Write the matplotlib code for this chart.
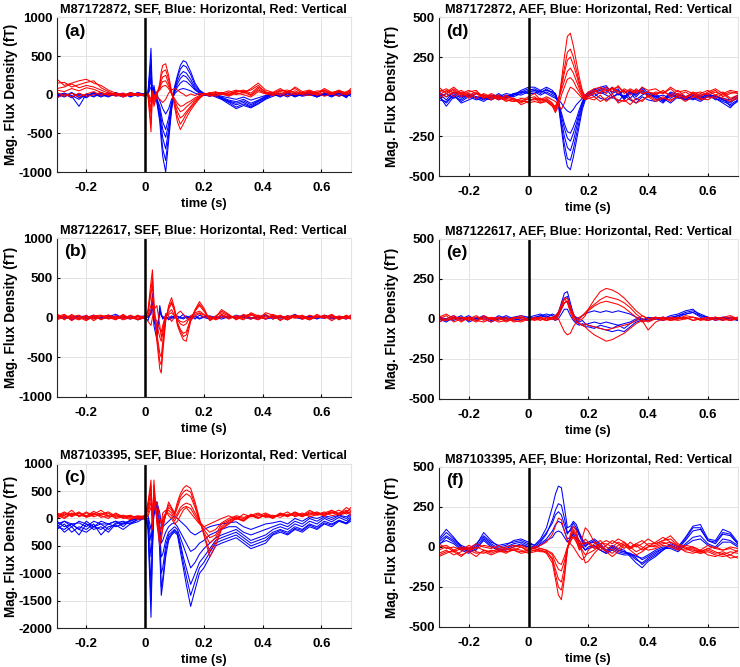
import matplotlib
matplotlib.use("Agg")
import matplotlib.pyplot as plt

plt.rcParams['font.family'] = ['Liberation Sans', 'DejaVu Sans']
plt.rcParams['font.weight'] = 'bold'

# time points (s)
t_sef = [-0.3, -0.275, -0.25, -0.225, -0.2, -0.175, -0.15, -0.125, -0.1, -0.075, -0.05, -0.025, 0.0,
         0.01, 0.02, 0.025, 0.03, 0.04, 0.05, 0.055, 0.06, 0.07, 0.08, 0.09, 0.1, 0.11, 0.12, 0.13,
         0.14, 0.155, 0.17, 0.185, 0.2, 0.22, 0.24,
         0.26, 0.285, 0.31, 0.335, 0.36, 0.385, 0.41, 0.435, 0.46, 0.485, 0.51, 0.535, 0.56, 0.585,
         0.61, 0.635, 0.66, 0.685, 0.7]
t_aef = [-0.3, -0.275, -0.25, -0.225, -0.2, -0.175, -0.15, -0.125, -0.1, -0.075, -0.05, -0.025, 0.0,
         0.02, 0.04, 0.06, 0.08, 0.09, 0.1, 0.11, 0.12, 0.13, 0.14, 0.15, 0.16, 0.17, 0.18, 0.19,
         0.2, 0.22, 0.24, 0.26, 0.28, 0.3, 0.32, 0.34, 0.36, 0.38, 0.4,
         0.425, 0.45, 0.475, 0.5, 0.525, 0.55, 0.575, 0.6, 0.625, 0.65, 0.675, 0.7]

# (a) M87172872 SEF
a_blue = [
    [-20, 10, -40, 15, -30, 20, -10, 25, -15, 10, -20, 30, 0,
     40, 600, -50, 120, -100, -350, -600, -800, -1000, -600, -200, 100, 250, 380, 440, 420, 300, 150, 60, 20, 0, -30,
     -60, -120, -180, -140, -170, -120, -60, -20, 10, -30, 20, -10, 30, -20, 10, -30, 20, -40, 30],
    [20, -20, 30, -40, 0, 10, -30, 20, -10, -20, 30, 0, -20,
     30, 450, -70, 90, -80, -300, -500, -700, -850, -520, -180, 80, 220, 330, 380, 360, 260, 120, 50, 10, -10, 0,
     -50, -100, -160, -120, -160, -110, -50, 0, -10, 10, -20, 20, 0, -30, 20, -10, 10, -30, 20],
    [-40, 20, -10, -60, 10, -20, 30, -10, 20, -30, 10, -10, 20,
     20, 350, -80, 60, -60, -250, -400, -560, -700, -450, -150, 60, 180, 260, 300, 280, 200, 90, 40, 0, -20, 10,
     -40, -90, -130, -100, -150, -90, -40, 10, -20, 20, -30, 10, 40, -10, 20, -20, 30, -10, 40],
    [0, 20, -30, 10, -20, 30, -20, 0, 10, -10, 0, 20, 10,
     10, 250, -60, 40, -50, -200, -320, -450, -550, -380, -120, 40, 140, 210, 250, 230, 160, 70, 30, -10, 20, -10,
     -50, -80, -110, -80, -130, -80, -30, 10, -30, 20, -10, 20, 10, -20, 0, 20, -10, 20, -20],
    [10, -30, 20, -10, -40, 20, 0, -30, 30, -10, 20, -20, 10,
     0, 200, -40, 30, -50, -150, -250, -350, -450, -300, -100, 30, 100, 150, 180, 170, 120, 60, 20, -10, 10, -20,
     -30, -70, -90, -60, -110, -70, -20, 20, -10, 30, -20, 0, 20, -30, 10, 30, -20, 10, 0],
    [-30, 0, -20, -150, 10, -30, 20, -20, 0, 20, -30, 10, -10,
     10, 100, 60, 20, 0, -80, -130, -180, -250, -180, -60, 10, 50, 70, 80, 70, 50, 20, 0, 10, -20, 0,
     -20, -40, -60, -30, -70, -40, -10, 0, 20, -10, 10, -20, 0, 20, -10, 0, 30, -20, 10],
]
a_red = [
    [200, 120, 150, 180, 200, 150, 120, 60, 20, 0, 10, -10, 0,
     -20, -480, 50, -150, -20, 150, 300, 380, 400, 250, 50, -150, -350, -450, -380, -300, -200, -120, -50, 0, 20, 40,
     0, 30, 60, 20, 80, 150, 60, 30, 80, 20, 100, 40, 60, 20, 80, 30, 50, 20, 80],
    [150, 160, 100, 130, 160, 180, 90, 40, 0, 20, -10, 0, 10,
     -10, -380, 40, -120, 0, 120, 250, 300, 320, 200, 30, -120, -280, -380, -320, -250, -170, -100, -40, 0, 10, 30,
     20, 0, 50, 40, 60, 120, 30, 20, 60, 40, 80, 20, 40, 30, 60, 10, 40, 30, 50],
    [80, 100, 140, 90, 120, 100, 60, 20, -20, 10, -10, 20, -10,
     0, -250, 30, -80, 30, 100, 180, 230, 250, 150, 20, -100, -220, -300, -270, -220, -150, -80, -30, 10, -10, 20,
     30, 10, 40, 60, 20, 100, 40, 0, 50, 60, 20, 30, 10, 50, 40, 20, 60, 10, 40],
    [60, 40, 80, 50, 90, 70, 30, 0, 10, -10, 20, 0, -10,
     10, -180, 30, -60, 20, 80, 140, 170, 180, 110, 20, -70, -160, -220, -200, -160, -110, -60, -20, 10, -20, 10,
     20, -10, 30, 50, 0, 80, 20, 10, 40, 20, 50, 10, 30, 0, 60, 20, 40, 0, 30],
    [30, -20, 20, -30, 10, 40, -10, 20, 0, -20, 30, -10, 10,
     10, -100, 20, -30, 40, 60, 90, 110, 120, 80, 10, -50, -110, -150, -140, -110, -80, -40, -10, 20, 0, -20,
     10, -20, 20, 0, -30, 40, 10, -10, 20, -20, 30, 0, -10, 20, -20, 10, 30, 0, 20],
    [-40, 10, -30, 20, -20, 0, 30, -10, 20, -30, 0, 20, -20,
     20, -60, 40, 0, -30, -60, -80, -100, -60, 20, 60, 80, 60, 30, 10, -20, 10, -10, 20, 0, 30, -10,
     20, 50, 0, 30, -10, 60, 20, 30, -10, 40, 0, 20, 50, -10, 30, 10, -20, 40, 60],
]

# (b) M87122617 SEF
b_blue = [
    [10, -20, 20, -10, 0, 30, -20, 10, 40, -10, 20, -30, 0,
     -40, 100, 300, -100, -280, 150, 50, -20, 20, -30, 0, 20, -20, 10, 40, -10, 20, -20, 30, 0, 10, -10,
     20, -10, 30, 0, -20, 10, 30, -20, 10, 0, 40, -10, 20, -20, 30, 0, -10, 20, 0],
    [20, 0, -10, 20, -20, 10, 0, -10, 20, 0, -20, 10, 20,
     0, 40, 200, -20, -200, 100, 30, 10, 0, -20, 20, -10, 10, 0, -20, 10, 0, 20, -10, 0, -20, 10,
     0, 20, -10, 10, 0, -20, 20, 10, -10, 20, 0, -20, 10, 0, -10, 20, 0, -20, 10],
    [-10, 20, -30, 10, 20, -10, 0, 30, -20, 10, -10, 20, -10,
     10, 60, 150, -40, -150, 80, 20, 0, -20, 10, -10, 0, 20, -10, 0, 20, -10, 10, -20, 10, 20, 0,
     -20, 10, 0, 30, -10, 20, -20, 0, 10, -30, 20, 0, 10, -10, 20, -20, 10, 0, -10],
]
b_red = [
    [50, -30, 40, -20, 30, -40, 20, 0, -30, 40, -20, 30, -10,
     100, 450, 600, 200, -300, -650, -700, -450, -50, 150, 250, 120, -100, -200, -280, -300, -50, 100, 200, 120, -40, 0,
     100, 40, -30, 20, 40, -20, 60, 30, -40, 20, 0, 30, -20, 40, -10, 30, -30, 20, 0],
    [10, 40, -20, 0, -40, 20, 30, -10, 20, -30, 0, 20, -20,
     80, 350, 500, 150, -250, -550, -600, -380, -20, 120, 200, 100, -80, -170, -240, -220, -30, 90, 170, 100, -30, 10,
     80, 30, -20, 10, 50, 0, 40, -20, 20, -10, 30, 10, -30, 20, 0, 40, -20, 10, 20],
    [-20, 30, -40, 20, -10, 30, -30, 20, 10, -20, 30, -10, 20,
     60, 300, 400, 100, -200, -450, -500, -300, 0, 100, 180, 80, -60, -150, -200, -180, -20, 80, 150, 80, -20, 20,
     60, 20, 0, -30, 60, 20, -20, 40, 0, -30, 20, -20, 30, 0, 20, -40, 10, -20, 30],
    [20, -10, 10, 30, -30, 10, 20, -20, 0, 30, -10, -20, 10,
     30, 150, 250, 50, -100, -250, -300, -200, 20, 60, 100, 30, -30, -80, -100, -80, 20, 60, 80, 40, 0, -20,
     30, -20, 20, 10, -20, 30, -10, 20, -30, 10, 30, -20, 0, 20, -10, 10, -20, 30, -10],
    [-10, 20, 0, -30, 20, -20, 10, 30, -20, 20, -10, 10, 0,
     20, 80, 150, 30, -50, -150, -180, -100, 30, 40, 60, 20, -20, -50, -60, -40, 10, 40, 60, 30, 10, -20,
     40, 0, 20, -20, 30, 10, -20, 30, 0, 20, -10, 20, -20, 0, 30, -10, 20, 0, -20],
    [-30, 10, 20, -20, 10, 0, -20, 30, -10, 0, 20, -30, 0,
     -50, -100, 0, 100, 150, -100, -250, -150, 50, 20, -50, 0, 50, 80, 40, 0, -40, 20, 50, 0, 20, -30,
     0, 20, -20, 40, 0, -30, 20, 0, 30, -20, 10, 0, -30, 20, 0, 30, -10, 0, 20],
]

# (c) M87103395 SEF
c_blue = [
    [-100, -250, -150, -300, -100, -200, -150, -250, -100, -80, -50, 0, 50,
     -200, -1800, -600, 200, 250, -600, -1400, -1200, -700, -400, -300, -250, -300, -600, -900, -1200, -1600, -1300,
     -1000, -900, -700, -500,
     -450, -400, -350, -450, -550, -500, -450, -300, -250, -300, -200, -250, -150, -200, -100, -150, -50, -100, -50],
    [-150, -200, -100, -200, -250, -150, -200, -100, -150, -100, -80, -20, 30,
     -150, -1500, -500, 180, 220, -500, -1250, -1100, -600, -350, -280, -220, -280, -500, -800, -1050, -1400, -1150,
     -900, -800, -620, -450,
     -400, -350, -300, -400, -500, -450, -400, -280, -220, -280, -180, -220, -120, -180, -80, -120, -40, -90, -20],
    [-200, -100, -250, -150, -200, -100, -300, -150, -120, -200, -100, -60, 20,
     -100, -1200, -400, 150, 200, -400, -1000, -900, -500, -300, -250, -200, -250, -450, -700, -900, -1200, -1000,
     -800, -700, -550, -400,
     -350, -300, -250, -350, -450, -400, -350, -250, -200, -250, -150, -200, -100, -150, -50, -100, -30, -80, 0],
    [-50, -150, -100, -200, -50, -150, -100, -100, -50, -150, -30, 0, 30,
     -50, -700, -200, 100, 100, -250, -700, -650, -400, -250, -200, -150, -200, -350, -500, -650, -900, -800,
     -650, -550, -450, -350,
     -300, -250, -200, -300, -400, -350, -300, -200, -150, -200, -100, -150, -50, -100, 0, -60, 20, -40, 30],
    [-150, -50, -100, -80, -150, -50, -100, -200, -80, -50, -100, -20, 0,
     0, -400, -100, 80, 300, -100, -450, -400, -250, -150, -100, -80, -150, -250, -350, -450, -600, -550,
     -450, -400, -300, -250,
     -200, -150, -150, -250, -300, -250, -200, -150, -100, -150, -50, -100, 0, -50, 30, -20, 50, 0, 60],
    [-100, -50, -150, -50, -100, -150, -50, -100, -50, -100, -30, 0, 50,
     50, -200, 0, 300, 300, 100, -100, -150, -100, -50, 0, 50, 0, -50, -100, -150, -250, -300,
     -250, -200, -150, -120,
     -100, -80, -60, -150, -200, -150, -100, -80, -50, -100, 0, -50, 30, 0, 50, 20, 60, 30, 80],
]
c_red = [
    [100, 50, 150, 30, 100, 80, 150, 50, 20, 50, 0, 30, 50,
     300, 700, -200, 700, -100, -500, -300, -200, 100, 300, 200, 100, 300, 450, 550, 600, 550, 300, 0, -300, -700, -500,
     -200, -100, 0, -50, 50, 0, 80, 20, 100, 50, 120, 60, 150, 80, 100, 150, 80, 200, 150],
    [30, 100, 80, 50, 120, 30, 80, 120, 40, 60, 20, 50, 30,
     250, 600, -100, 600, -50, -400, -350, -100, 80, 250, 180, 80, 250, 400, 480, 520, 480, 250, -30, -280, -600, -420,
     -180, -80, 10, -40, 60, 10, 60, 10, 90, 40, 110, 50, 120, 100, 80, 120, 100, 150, 130],
    [50, 120, 30, 100, 50, 130, 60, 100, 0, 30, 50, -20, 20,
     200, 500, 0, 500, 0, -300, -400, -150, 50, 200, 150, 50, 200, 350, 400, 450, 400, 200, -50, -250, -450, -350,
     -150, -50, 20, -30, 80, 20, 50, 0, 80, 30, 100, 40, 80, 120, 60, 100, 150, 80, 120],
    [60, 0, 80, 100, 40, 80, 50, 0, 100, 30, 60, 0, 40,
     150, 400, 50, 400, 50, -250, -200, 0, 100, 100, 50, -50, 50, 150, 200, 220, 180, 50, -80, -200, -350, -300,
     -100, -30, 30, 0, 40, 80, 20, 40, 60, 60, 80, 30, 100, 60, 80, 100, 70, 120, 100],
    [0, 80, 50, 120, 20, 60, 100, 30, 50, 20, -20, 40, 0,
     100, 300, -100, 300, 100, -200, -150, -50, 100, 150, 100, 0, 100, 200, 250, 280, 250, 100, -50, -150, -250, -200,
     -80, 0, 50, 20, 60, 100, 30, 60, 20, 80, 50, 100, 30, 70, 120, 50, 80, 130, 60],
    [80, 20, 100, 60, 30, 100, 20, 60, 80, 0, 40, 20, -20,
     50, 200, 100, 150, 300, 0, -100, 100, 150, 50, 0, -100, -50, 50, 150, 200, 100, 0, -100, -150, -100, -50,
     0, 50, -20, 80, 30, 50, 100, 40, 60, 120, 30, 80, 60, 100, 40, 150, 60, 100, 200],
]

# (d) M87172872 AEF
d_blue = [
    [10, -60, 0, -20, 10, -10, -30, 0, -10, 10, 0, 20, 40,
     50, 30, 40, 30, 20, -50, -200, -350, -440, -460, -380, -280, -180, -80, -20,
     10, 40, 60, 70, 20, 40, -20, 30, 10, 60, 20,
     -10, -40, 10, 0, -20, 10, -10, 20, -20, -10, -60, -30],
    [0, -40, 10, -30, 0, -20, -10, 10, -20, 0, 10, 30, 50,
     40, 20, 50, 20, 10, -40, -180, -300, -390, -400, -330, -240, -150, -60, -10,
     20, 30, 50, 60, 30, 50, -10, 40, 0, 40, 10,
     0, -30, 20, -10, -10, 0, -20, 10, -10, -30, -50, -20],
    [30, 0, 20, -10, 20, 0, -20, 10, 0, 20, 10, 40, 60,
     60, 40, 60, 40, 10, -30, -150, -250, -320, -340, -280, -200, -120, -50, 0,
     20, 50, 20, 30, 60, 10, 40, -10, 30, 50, 0,
     20, -20, 30, 10, 0, 20, -10, 0, 10, -20, -30, -10],
    [20, -20, 30, 0, 10, -10, 0, -20, 10, -10, 20, 30, 30,
     40, 30, 40, 30, 20, -30, -120, -200, -260, -280, -230, -170, -100, -40, 0,
     10, 30, 40, 50, 0, 20, -10, 20, 20, 30, 10,
     10, -30, 20, 0, -10, 20, 0, 10, 0, -20, -40, 0],
    [-20, -30, 10, -40, -20, 0, -10, -20, 0, 0, 20, 10, 30,
     30, 10, 30, 10, 0, -40, -100, -170, -220, -230, -190, -140, -80, -30, 10,
     0, 20, -10, -20, 0, -30, 10, -20, -40, 0, -20,
     -30, -10, -40, 0, -20, -10, -30, 0, -10, -40, -70, -20],
    [0, 20, -10, 10, 0, 20, 10, -10, 20, -10, 10, 30, 20,
     20, 40, 20, 0, -10, -20, -40, -70, -90, -100, -80, -50, -30, -10, 10,
     30, 0, 30, 10, -10, 20, 0, 30, -20, 10, 30,
     0, 10, -10, 20, 0, -20, 10, 20, 0, -10, -20, 10],
]
d_red = [
    [30, 50, 20, 40, 10, 30, 0, -10, 10, -20, -30, -10, -20,
     -20, -10, -30, -60, -90, -40, 100, 250, 380, 400, 320, 220, 120, 40, 0,
     10, 30, 50, 20, 60, 30, 40, 10, 50, 20, 30,
     10, 40, 0, 20, -10, 30, 10, 20, 40, 0, 20, 30],
    [60, 20, 50, 10, 30, 40, -10, 20, 0, -10, -20, -40, -10,
     0, -30, -10, -40, -70, -20, 80, 180, 280, 300, 250, 170, 90, 30, -10,
     20, 40, 20, 60, 30, 70, 20, 50, 30, 40, 0,
     30, 20, 50, 10, 30, 0, 20, 40, 10, 30, -10, 10],
    [40, 30, 60, 20, 40, 20, 10, 0, -10, 0, -10, -30, -30,
     -10, -20, -20, -50, -80, -30, 60, 150, 230, 250, 200, 140, 70, 20, -10,
     0, 20, 30, 40, 50, 20, 50, 30, 40, 20, 30,
     20, 30, 10, 40, 0, 20, 30, 10, 30, 10, 30, 20],
    [10, 40, 0, 30, -10, 20, 10, -20, 0, -30, -10, -50, -30,
     -10, -40, -20, -50, -60, -10, 40, 100, 160, 180, 150, 100, 50, 10, -20,
     -10, 0, -30, -10, 20, -40, -20, -50, -10, -30, 10,
     -20, 0, -30, 10, -10, 20, -20, 0, -10, 20, -20, 0],
    [20, 0, 30, 20, 0, 20, -10, 10, -10, -20, -30, -20, -40,
     -30, -40, -30, -60, -100, -60, 10, 60, 110, 120, 100, 60, 30, 0, -20,
     -10, -20, 10, -30, 0, -20, -30, -10, -40, -20, 0,
     -30, -10, -20, 0, -30, 0, -10, -20, 10, -10, -30, -10],
    [-10, 20, 40, 0, 20, -10, 20, 0, -20, 10, -20, -30, 0,
     20, -20, 0, -20, -30, -50, -80, -40, 20, 60, 50, 30, 10, -10, 10,
     30, 50, 60, 40, 50, 60, 30, 40, 20, 60, 40,
     50, 20, 60, 30, 40, 20, 0, 30, 50, 20, 40, 30],
]

# (e) M87122617 AEF
e_blue = [
    [0, -20, 10, 0, 20, -10, 10, 0, 10, -10, 0, 10, 0,
     10, 20, 30, 20, 10, 40, 100, 160, 170, 100, 30, 0, -20, -10, -30,
     -40, -50, -60, -70, -80, -70, -80, -50, -20, -10, 0,
     10, 0, 20, 30, 50, 60, 20, 0, 10, -10, 10, 0],
    [10, -10, 0, 20, -20, 0, 10, -10, 0, 20, 0, -10, 10,
     0, 20, 10, 30, 20, 40, 80, 130, 140, 80, 30, -10, -30, -40, -50,
     -50, -60, -40, -50, -60, -40, -60, -30, -10, 0, -10,
     0, 10, 0, 10, 30, 40, 20, 10, -10, 0, 10, -10],
    [10, 0, 20, -10, 10, 0, 20, -10, 20, 0, 10, 20, 10,
     20, 30, 10, 10, 0, 20, 60, 100, 110, 60, 20, 10, 0, 20, 30,
     40, 50, 40, 50, 40, 50, 40, 30, 10, 0, -10,
     0, 10, 0, 20, 40, 50, 30, 10, 0, 10, 0, -10],
    [-20, 0, -10, 10, -10, 10, 0, -20, 0, 10, -10, 0, -10,
     0, 10, 20, 0, -10, 0, 30, 60, 60, 20, -10, -30, -40, -30, -40,
     -30, -20, -30, -20, -30, -40, -30, -20, 0, -10, 10,
     0, -10, 10, 20, 30, 40, 10, -10, 0, 10, -10, 0],
]
e_red = [
    [10, 30, 0, 10, -10, 10, 0, -20, 10, 0, -10, -20, 0,
     0, 10, 0, 10, 0, 30, 80, 120, 130, 80, 30, 0, -10, 0, 20,
     60, 120, 170, 190, 180, 160, 130, 90, 50, 20, 0,
     10, 0, 10, 0, 20, 10, 0, 10, -10, 10, 20, 0],
    [0, 20, -20, 0, 10, -10, 20, 0, 10, -20, 0, 20, -10,
     0, 10, -10, 10, 20, 40, 70, 100, 110, 60, 10, -20, 0, 20, 40,
     60, 90, 120, 140, 130, 120, 100, 70, 30, 0, -20,
     0, 10, 0, -10, 0, 10, 0, -10, 10, 0, 10, 0],
    [-20, 0, 20, -10, 0, -20, 10, 0, -20, -10, 10, 0, -10,
     10, 0, -10, 0, -10, 20, 60, 100, 110, 60, 20, 0, 10, 20, 30,
     50, 80, 100, 110, 100, 90, 70, 40, 10, -20, -10,
     0, 10, -10, 0, 10, -10, 0, 10, 0, -10, 0, 10],
    [0, -10, 10, -20, 10, -10, -20, 0, -10, 10, -20, -10, 0,
     -10, 0, -10, 0, 10, 0, -40, -80, -100, -90, -50, -20, -30, -40, -50,
     -70, -100, -120, -140, -130, -110, -90, -60, -30, -10, -70,
     -20, 0, -10, 0, 10, -10, 0, -10, 10, 0, -10, 0],
    [20, -10, 0, 10, 0, 20, -10, 10, 0, -10, 0, 10, 0,
     0, -10, 10, 0, 10, 40, 90, 130, 100, 40, 0, -20, -30, -40, -30,
     -40, -50, -60, -70, -60, -50, -40, -30, -10, 20, 0,
     10, -10, 0, 10, 0, 10, -10, 0, 10, 0, -10, 10],
]

# (f) M87103395 AEF
f_blue = [
    [50, 110, 60, 0, -20, 10, 90, 40, 0, 10, 40, 50, 30,
     10, 50, 120, 250, 330, 380, 370, 250, 120, 130, 160, 140, 90, 50, 20,
     30, 50, 20, -20, 10, -10, -20, -60, -100, -130, -90,
     -60, -20, 20, 0, 60, 130, 140, 50, 40, 110, 90, 30],
    [30, 70, 40, 0, -30, 0, 60, 20, -10, 0, 20, 30, 10,
     0, 30, 80, 170, 230, 270, 260, 180, 90, 100, 130, 110, 70, 30, 0,
     20, 30, 0, -30, 0, -20, -30, -50, -80, -100, -70,
     -40, -10, 10, -10, 40, 100, 110, 40, 20, 80, 70, 20],
    [40, 90, 50, 10, -10, 20, 70, 30, 10, 20, 30, 40, 20,
     10, 40, 90, 150, 200, 220, 200, 140, 80, 110, 150, 120, 80, 40, 10,
     20, 40, 10, -30, 0, -20, -30, -40, -70, -110, -80,
     -50, -20, 10, -10, 50, 120, 120, 40, 30, 90, 80, 20],
    [20, 40, 20, -20, -40, -10, 40, 0, -20, -10, 10, 10, 0,
     -10, 20, 50, 100, 140, 160, 150, 100, 50, 60, 90, 70, 40, 10, -20,
     0, 10, -20, -40, -10, -30, -40, -40, -60, -70, -50,
     -20, 0, 0, -20, 20, 60, 70, 20, 0, 50, 40, 10],
    [10, 60, 30, -10, -30, -20, 50, 10, -20, -20, 0, 20, 0,
     -10, 10, 40, 60, 90, 100, 90, 60, 30, 50, 80, 50, 20, 0, -20,
     -10, 0, -20, -40, -20, -40, -50, -50, -50, -80, -60,
     -30, -10, -10, -30, 10, 40, 50, 10, -10, 30, 30, 0],
]
f_red = [
    [-40, -20, -50, -30, 0, -30, -40, -20, -30, -10, -20, -30, -20,
     -10, -20, -40, -100, -200, -300, -330, -200, -20, 80, 130, 100, 20, -40, -100,
     -90, -40, 0, -30, -60, -30, 10, -20, -50, -30, 0,
     30, 60, 30, 0, -30, -40, -20, -50, -60, -40, -70, -60],
    [-50, -30, -30, -60, -20, -40, -30, -50, -30, -30, -20, -40, -30,
     -20, -30, -30, -80, -170, -250, -270, -170, -20, 70, 110, 80, 10, -20, -50,
     -40, -20, 10, -20, -40, -10, 20, 0, -30, -10, 20,
     20, 40, 50, 10, -10, -30, -40, -30, -50, -60, -50, -70],
    [-60, -40, -20, -50, -30, -60, -20, -40, -20, -40, -10, -20, -40,
     -30, -20, -30, -70, -140, -200, -220, -130, -10, 60, 100, 60, 0, 60, 120,
     100, 30, -20, 10, 40, 20, -10, 30, 0, 20, 50,
     20, 40, 70, 20, 0, -20, -30, -10, -30, -50, -30, -40],
    [-20, 0, -30, -10, -20, 0, -20, -30, -10, -30, -20, 0, -30,
     -20, -10, -20, -50, -100, -140, -150, -90, -10, 30, 70, 40, -20, 0, 30,
     20, -10, 20, 20, 0, 30, 10, -10, 10, -20, 0,
     10, 30, 10, -10, -20, -10, -40, -20, -40, -30, -50, -20],
    [0, 10, -20, 0, -10, 20, 0, -10, 10, -20, 0, 10, -10,
     0, -10, -20, -40, -70, -100, -110, -60, 0, 40, 60, 30, -10, 20, 50,
     30, 0, 20, 40, 20, 50, 30, 0, 20, 40, 10,
     0, 20, 30, 10, -10, 0, -20, 10, -10, -20, 0, -10],
    [20, -10, 0, -20, 10, -10, 10, 0, -10, 0, 10, 0, -20,
     0, 10, 30, 80, 130, 180, 170, 100, 40, 20, 0, -30, -60, -80, -60,
     -20, 20, 40, 0, -20, 10, 30, -10, 20, 0, -20,
     -10, 10, 0, -20, 10, 0, -30, -10, 0, -20, -10, -30],
]

titles = ['M87172872, SEF, Blue: Horizontal, Red: Vertical',
          'M87122617, SEF, Blue: Horizontal, Red: Vertical',
          'M87103395, SEF, Blue: Horizontal, Red: Vertical',
          'M87172872, AEF, Blue: Horizontal, Red: Vertical',
          'M87122617, AEF, Blue: Horizontal, Red: Vertical',
          'M87103395, AEF, Blue: Horizontal, Red: Vertical']
letters = ['(a)', '(b)', '(c)', '(d)', '(e)', '(f)']
xticks = [-0.2, 0, 0.2, 0.4, 0.6]
xtick_labels = ['-0.2', '0', '0.2', '0.4', '0.6']
sef_ticks = [-1000, -500, 0, 500, 1000]
c_ticks = [-2000, -1500, -1000, -500, 0, 500, 1000]
c_tick_labels = ['-2000', '-1500', '-1000', '500', '0', '500', '1000']
aef_ticks = [-500, -250, 0, 250, 500]

panels = [
    (t_sef, a_blue, a_red, (-1000, 1000), sef_ticks, [str(v) for v in sef_ticks]),
    (t_sef, b_blue, b_red, (-1000, 1000), sef_ticks, [str(v) for v in sef_ticks]),
    (t_sef, c_blue, c_red, (-2000, 1000), c_ticks, c_tick_labels),
    (t_aef, d_blue, d_red, (-500, 500), aef_ticks, ['-500', '-250', '', '250', '500']),
    (t_aef, e_blue, e_red, (-500, 500), aef_ticks, [str(v) for v in aef_ticks]),
    (t_aef, f_blue, f_red, (-500, 500), aef_ticks, [str(v) for v in aef_ticks]),
]

# axes boxes [left, bottom, width, height] in figure fractions
boxes = [
    [0.077, 0.742, 0.397, 0.232],
    [0.077, 0.405, 0.397, 0.238],
    [0.077, 0.058, 0.397, 0.247],
    [0.593, 0.736, 0.404, 0.238],
    [0.593, 0.402, 0.404, 0.240],
    [0.593, 0.060, 0.404, 0.240],
]

fig = plt.figure(figsize=(7.4, 6.67), dpi=100)

for i, (t, blues, reds, ylim, yt, ytl) in enumerate(panels):
    ax = fig.add_axes(boxes[i])
    ax.grid(True, color='#e3e3e3', linewidth=0.7)
    ax.set_axisbelow(True)
    for tr in blues:
        ax.plot(t, tr, color='#0000ff', linewidth=0.75)
    for tr in reds:
        ax.plot(t, tr, color='#ff0000', linewidth=0.75)
    ax.axvline(0, color='black', linewidth=1.8)
    ax.set_xlim(-0.3, 0.7)
    ax.set_ylim(*ylim)
    ax.set_xticks(xticks)
    ax.set_xticklabels(xtick_labels)
    ax.set_yticks(yt)
    ax.set_yticklabels(ytl)
    ax.tick_params(direction='in', length=2.5, labelsize=9.5)
    ax.tick_params(axis='x', pad=7)
    ax.tick_params(axis='y', pad=3)
    for lab in ax.get_xticklabels() + ax.get_yticklabels():
        lab.set_fontweight('bold')
    for side in ['top', 'right']:
        ax.spines[side].set_color('#e3e3e3')
    for side in ['left', 'bottom']:
        ax.spines[side].set_color('#262626')
    ax.set_title(titles[i], fontsize=9.2, fontweight='bold', pad=3)
    ax.set_xlabel('time (s)', fontsize=9.3, fontweight='bold', labelpad=3)
    ax.set_ylabel('Mag. Flux Density (fT)', fontsize=9.8, fontweight='bold')
    ax.yaxis.set_label_coords(-0.133, 0.5)
    ax.text(0.025, 0.96, letters[i], transform=ax.transAxes, ha='left', va='top',
            fontsize=12.5, fontweight='bold')

fig.savefig('out.png', dpi=100)
